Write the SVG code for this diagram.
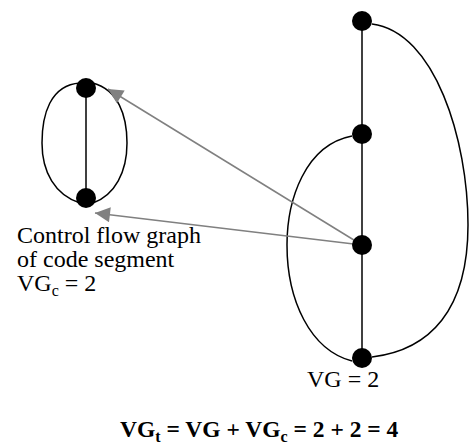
<svg xmlns="http://www.w3.org/2000/svg" width="469" height="445" viewBox="0 0 469 445">
<defs>
<style>
.edge{fill:none;stroke:#000;stroke-width:1.5}
.node{fill:#000}
.ptr{stroke:#808080;stroke-width:1.5;fill:none}
.t{font-family:"Liberation Serif",serif;font-size:24px;fill:#000}
.b{font-family:"Liberation Serif",serif;font-size:23.5px;font-weight:bold;fill:#000}
.sub{font-size:16px}
</style>
<marker id="ah" viewBox="0 0 10 10" refX="10" refY="5" markerWidth="24" markerHeight="15" markerUnits="userSpaceOnUse" orient="auto">
<path d="M0,0 L10,5 L0,10 Z" fill="#808080"/>
</marker>
</defs>
<rect width="469" height="445" fill="#fff"/>
<g id="cfg-small">
<path class="edge" d="M86,88 L86,198"/>
<path class="edge" d="M80,83 C50,85 42,115 42,143 C42,172 55,195 80,203"/>
<path class="edge" d="M93,83 C118,90 127,115 127,143 C127,172 115,195 93,203"/>
</g>
<g id="cfg-main">
<path class="edge" d="M362,21 L362,358"/>
<path class="edge" d="M372,24 C435,32 468,140 468,225 C468,310 430,350 372,357"/>
<path class="edge" d="M352,136 C305,145 287,200 287,245 C287,300 310,350 352,361"/>
</g>
<g id="connectors">
<line class="ptr" x1="362" y1="245" x2="108" y2="89" marker-end="url(#ah)"/>
<line class="ptr" x1="362" y1="245" x2="95" y2="213" marker-end="url(#ah)"/>
</g>
<g id="n1"><circle class="node" cx="86" cy="88" r="10"/></g>
<g id="n2"><circle class="node" cx="86" cy="198" r="10"/></g>
<g id="n3"><circle class="node" cx="362" cy="21" r="10"/></g>
<g id="n4"><circle class="node" cx="362" cy="134" r="10"/></g>
<g id="n5"><circle class="node" cx="362" cy="245" r="10"/></g>
<g id="n6"><circle class="node" cx="362" cy="358" r="10"/></g>
<g id="labels">
<text class="t" x="17" y="243">Control flow graph</text>
<text class="t" x="17" y="267">of code segment</text>
<text class="t" x="17" y="291">VG<tspan class="sub" dy="5">c</tspan><tspan dy="-5"> = 2</tspan></text>
<text class="t" x="307" y="387">VG = 2</text>
<text class="b" x="120" y="437">VG<tspan class="sub" dy="5">t</tspan><tspan dy="-5"> = VG + VG</tspan><tspan class="sub" dy="5">c</tspan><tspan dy="-5"> = 2 + 2 = 4</tspan></text>
</g>
</svg>
